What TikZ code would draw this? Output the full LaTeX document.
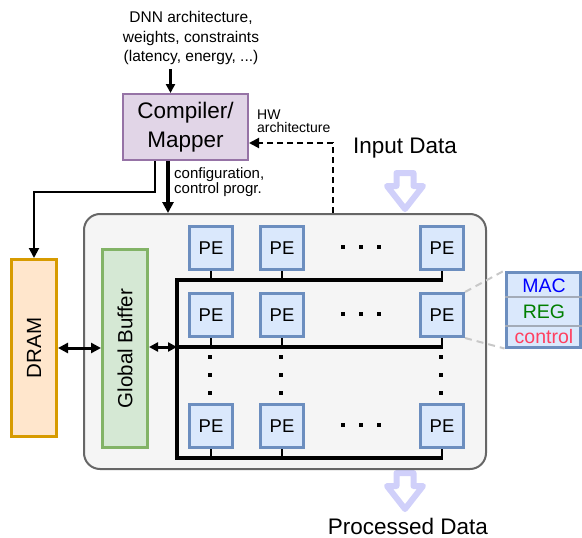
\documentclass[tikz,border=0pt]{standalone}
\usepackage{fontspec}
\setmainfont{Liberation Sans}
\usetikzlibrary{arrows.meta}
\definecolor{pefill}{HTML}{DAE8FC}
\definecolor{peline}{HTML}{6C8EBF}
\definecolor{gbfill}{HTML}{D5E8D4}
\definecolor{gbline}{HTML}{82B366}
\definecolor{dramfill}{HTML}{FFE6CC}
\definecolor{dramline}{HTML}{D79B00}
\definecolor{compfill}{HTML}{E1D5E7}
\definecolor{compline}{HTML}{9673A6}
\definecolor{chipfill}{HTML}{F5F5F5}
\definecolor{chipline}{HTML}{666666}
\definecolor{flowcol}{HTML}{D0D0FA}
\definecolor{divline}{HTML}{A3ABB8}
\definecolor{zoomline}{HTML}{C8C8C8}
\definecolor{macblue}{HTML}{0000FF}
\definecolor{reggreen}{HTML}{007F00}
\definecolor{ctrlred}{HTML}{FF4060}

\tikzset{
  pics/downflow/.style={code={
    \draw[draw=flowcol, fill=white, line width=6pt, line join=round]
      (-8.5,0) -- (8.5,0) -- (8.5,13) -- (18,13) -- (0,36) -- (-18,13) -- (-8.5,13) -- cycle;
  }}
}

\begin{document}
\begin{tikzpicture}[x=1pt,y=-1pt,
  peblock/.style={draw=peline, fill=pefill, line width=3pt, minimum width=43pt,
    minimum height=43pt, inner sep=0pt, font=\fontsize{18.5}{18.5}\selectfont},
  memblock/.style={line width=3pt, minimum height=45pt, inner sep=0pt, rotate=90,
    font=\fontsize{20.5}{20.5}\selectfont},
  bus/.style={line width=4pt, line join=miter},
  stub/.style={line width=2pt},
  tip/.style={-{Triangle[length=#1,width=#1]}},
  dtip/.style={{Triangle[length=#1,width=#1]}-{Triangle[length=#1,width=#1]}},
  bigtext/.style={font=\fontsize{22.5}{22.5}\selectfont},
  note/.style={font=\fontsize{15}{15}\selectfont, align=left, inner sep=0pt},
]
\useasboundingbox (0,0) rectangle (582,538);

% data flowing out of the array (drawn under the chip)
\pic at (405,473) {downflow};

% accelerator chip
\node[draw=chipline, fill=chipfill, line width=2pt, rounded corners=16pt,
  minimum width=402pt, minimum height=255pt, inner sep=0pt] (chip) at (285,341.5) {};

% data flowing into the array
\pic at (405,173) {downflow};
\node[bigtext] (indata) at (405,148) {Input Data};
\node[bigtext] (outdata) at (408,526) {Processed Data};

% compiler / mapper and its inputs
\node[font=\fontsize{15.5}{19.5}\selectfont, align=center, inner sep=0pt] (dnn) at (191,38)
  {DNN architecture,\\weights, constraints\\(latency, energy, ...)};
\node[draw=compline, fill=compfill, line width=2pt, minimum width=125pt, minimum height=66pt,
  inner sep=0pt, align=center, font=\fontsize{22.5}{29}\selectfont] (comp) at (185.5,127)
  {Compiler/\\Mapper};
\draw[line width=3pt, tip=9pt] ([xshift=-15pt]comp.north) ++(0,-24) coordinate (dnnin) -- ([xshift=-15pt]comp.north);

% memories
\node[memblock, draw=dramline, fill=dramfill, minimum width=177pt] (dram) at (34,348) {DRAM};
\node[memblock, draw=gbline, fill=gbfill, minimum width=198pt] (gb) at (125,348.5) {Global Buffer};

% control paths from the compiler
\draw[line width=2pt, tip=10pt] ([xshift=-30.5pt]comp.south) -- ++(0,31) -| (dram.east);
\draw[line width=4pt, tip=11pt] ([xshift=-17.5pt]comp.south) -- ([xshift=-17.5pt]comp.south |- chip.north);
\node[note, font=\fontsize{15}{15}\selectfont, anchor=west] (cfg) at (174,182)
  {configuration,\\control progr.};

% hardware description fed back to the compiler
\draw[line width=2pt, dash pattern=on 6pt off 4pt, tip=10pt]
  ([xshift=48pt]chip.north) |- ([yshift=-16pt]comp.east);
\node[note, font=\fontsize{14}{13.5}\selectfont, anchor=west] (hw) at (257,121.5)
  {HW\\architecture};

% PE array
\foreach \r/\y in {1/248,2/315,3/426}
  \foreach \c/\x in {1/211,2/282,3/442}
    \node[peblock] (pe\r\c) at (\x,\y) {PE};

% interconnect buses
\coordinate (busa) at (177,280);
\coordinate (busb) at (177,347);
\coordinate (busc) at (177,458);
\draw[bus] (443,280) -- (busa) -- (busc) -- (443,458);
\draw[bus] (busb) -- (443,347);
\foreach \c in {1,2,3} {
  \draw[stub] (pe1\c.south) -- (pe1\c.south |- busa);
  \draw[stub] (pe2\c.south) -- (pe2\c.south |- busb);
  \draw[stub] (pe3\c.south) -- (pe3\c.south |- busc);
}

% memory links
\draw[line width=3pt, dtip=10pt] (dram.south) -- (dram.south -| gb.north);
\draw[line width=3pt, dtip=9pt] (gb.south |- busb) -- (busb);

% ellipsis dots in the array
\foreach \x in {343,361,379}
  \foreach \y in {247,314,425}
    \fill (\x-2,\y-2) rectangle (\x+2,\y+2);
\foreach \x in {210,281,441}
  \foreach \y in {357,375,393}
    \fill (\x-2,\y-2) rectangle (\x+2,\y+2);

% detail of one PE
\node[draw=peline, fill=pefill, line width=3pt, minimum width=74pt, minimum height=75pt,
  inner sep=0pt] (pedetail) at (543,309.5) {};
\draw[divline, line width=2pt] (pedetail.west |- 0,297) -- (pedetail.east |- 0,297);
\draw[divline, line width=2pt] (pedetail.west |- 0,326) -- (pedetail.east |- 0,326);
\node[font=\fontsize{19.5}{19.5}\selectfont, text=macblue] (mac) at (544,286) {MAC};
\node[font=\fontsize{19.5}{19.5}\selectfont, text=reggreen] (reg) at (544,312) {REG};
\node[font=\fontsize{19.5}{19.5}\selectfont, text=ctrlred] (ctrl) at (544,336.5) {control};
\draw[zoomline, line width=2pt, dash pattern=on 7pt off 5pt] (pe23.north east) -- (pedetail.north west);
\draw[zoomline, line width=2pt, dash pattern=on 7pt off 5pt] (pe23.south east) -- (pedetail.south west);
\end{tikzpicture}
\end{document}
